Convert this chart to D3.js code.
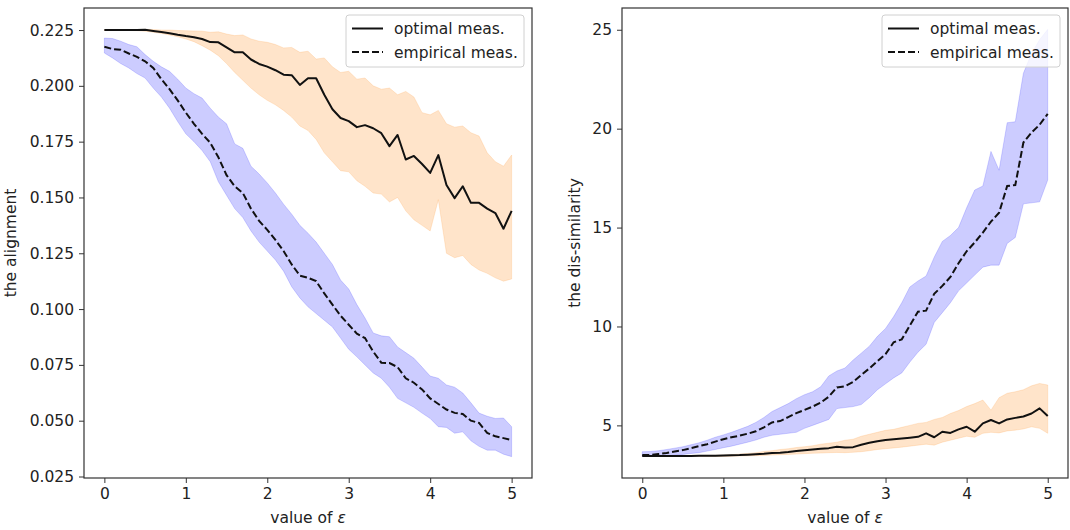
<!DOCTYPE html>
<html>
<head>
<meta charset="utf-8">
<script src="https://cdn.jsdelivr.net/npm/d3@7"></script>
<style>
  body { margin: 0; background: #fff; }
  text { font-family: "DejaVu Sans", sans-serif; fill: #222; }
</style>
</head>
<body>
<div id="chart"></div>
<script>
// x grid (value of epsilon)
var eps = [0, 0.1, 0.2, 0.3, 0.4, 0.5, 0.6, 0.7, 0.8, 0.9,
           1.0, 1.1, 1.2, 1.3, 1.4, 1.5, 1.6, 1.7, 1.8, 1.9,
           2.0, 2.1, 2.2, 2.3, 2.4, 2.5, 2.6, 2.7, 2.8, 2.9,
           3.0, 3.1, 3.2, 3.3, 3.4, 3.5, 3.6, 3.7, 3.8, 3.9,
           4.0, 4.1, 4.2, 4.3, 4.4, 4.5, 4.6, 4.7, 4.8, 4.9, 5.0]

// left: the alignment
var alignOpt = [.225, .225, .225, .225, .225, .2251, .2246, .2241, .2236, .2229,
                .2223, .2218, .2210, .2196, .2195, .2172, .2150, .2150, .2118, .2098,
                .2086, .2070, .2050, .2048, .2004, .2034, .2034, .1960, .1895, .1856,
                .1842, .1815, .1824, .1810, .1788, .1730, .1780, .1670, .1686, .1650,
                .1610, .1690, .1556, .1497, .1550, .1476, .1476, .1450, .1430, .1360, .1440]
var alignOptHi = [.2252, .2252, .2252, .2252, .2252, .2253, .2252, .2250, .2250, .2248,
                  .2247, .2246, .2245, .2240, .2242, .2232, .2225, .2228, .2210, .2200,
                  .2195, .2185, .2170, .2172, .2150, .2155, .2120, .2125, .2085, .2060,
                  .2065, .2030, .2035, .2000, .1985, .1990, .1960, .1975, .1950, .1880,
                  .1870, .1890, .1830, .1815, .1820, .1790, .1775, .1700, .1660, .1640, .1690]
var alignOptLo = [.2248, .2248, .2248, .2248, .2247, .2245, .2240, .2235, .2228, .2220,
                  .2210, .2198, .2180, .2160, .2135, .2100, .2060, .2025, .1990, .1960,
                  .1935, .1915, .1890, .1860, .1820, .1800, .1760, .1700, .1660, .1620,
                  .1615, .1575, .1550, .1520, .1515, .1480, .1500, .1440, .1400, .1375,
                  .1350, .1490, .1250, .1230, .1240, .1200, .1175, .1160, .1140, .1125, .1135]
var alignEmp = [.2175, .2165, .2162, .2145, .2130, .2110, .2080, .2030, .1985, .1935,
                .1880, .1830, .1785, .1745, .1680, .1600, .1550, .1520, .1450, .1395,
                .1355, .1310, .1260, .1200, .1150, .1140, .1125, .1070, .1020, .0970,
                .0930, .0890, .0870, .0810, .0760, .0758, .0740, .0690, .0670, .0640,
                .0600, .0575, .0550, .0535, .0530, .0500, .0490, .0445, .0430, .0422, .0413]
var alignEmpHi = [.2214, .2212, .2200, .2185, .2175, .2140, .2110, .2085, .2065, .2030,
                  .1990, .1965, .1945, .1900, .1860, .1830, .1740, .1720, .1640, .1605,
                  .1565, .1520, .1470, .1425, .1375, .1340, .1300, .1250, .1200, .1130,
                  .1090, .1020, .0960, .0893, .0880, .0876, .0830, .0805, .0780, .0740,
                  .0700, .0690, .0660, .0650, .0624, .0580, .0534, .0520, .0510, .0512, .0473]
var alignEmpLo = [.2147, .2125, .2100, .2080, .2055, .2035, .1990, .1950, .1900, .1840,
                  .1785, .1750, .1710, .1660, .1570, .1510, .1450, .1410, .1350, .1300,
                  .1260, .1220, .1170, .1100, .1050, .1010, .0980, .0950, .0920, .0870,
                  .0820, .0786, .0750, .0714, .0690, .0650, .0600, .0580, .0560, .0534,
                  .0510, .0473, .0470, .0444, .0450, .0410, .0385, .0368, .0368, .0350, .0339]

// right: the dis-similarity
var dissOpt = [3.45, 3.45, 3.45, 3.45, 3.45, 3.45, 3.45, 3.46, 3.46, 3.47,
               3.48, 3.49, 3.50, 3.52, 3.54, 3.56, 3.60, 3.62, 3.65, 3.70,
               3.74, 3.78, 3.82, 3.85, 3.92, 3.88, 3.90, 4.02, 4.12, 4.20,
               4.26, 4.30, 4.34, 4.38, 4.42, 4.60, 4.40, 4.68, 4.62, 4.80,
               4.93, 4.68, 5.10, 5.27, 5.10, 5.30, 5.38, 5.45, 5.60, 5.86, 5.47]
var dissOptHi = [3.47, 3.47, 3.47, 3.47, 3.47, 3.47, 3.48, 3.48, 3.49, 3.49,
                 3.50, 3.52, 3.55, 3.58, 3.62, 3.68, 3.72, 3.78, 3.82, 3.88,
                 3.92, 3.97, 4.05, 4.10, 4.15, 4.25, 4.30, 4.45, 4.55, 4.65,
                 4.75, 4.80, 4.90, 5.00, 5.10, 5.15, 5.30, 5.40, 5.60, 5.75,
                 5.95, 6.10, 6.28, 5.77, 6.40, 6.62, 6.70, 6.80, 7.00, 7.12, 7.04]
var dissOptLo = [3.43, 3.43, 3.43, 3.43, 3.43, 3.43, 3.43, 3.43, 3.43, 3.43,
                 3.43, 3.44, 3.45, 3.46, 3.47, 3.48, 3.50, 3.52, 3.53, 3.55,
                 3.57, 3.59, 3.60, 3.62, 3.63, 3.62, 3.64, 3.67, 3.72, 3.78,
                 3.82, 3.86, 3.90, 3.95, 4.00, 4.05, 4.00, 4.15, 4.25, 4.35,
                 4.45, 4.40, 4.60, 4.65, 4.62, 4.72, 4.76, 4.82, 4.93, 4.85, 4.60]
var dissEmp = [3.50, 3.50, 3.55, 3.60, 3.68, 3.75, 3.85, 3.95, 4.05, 4.18,
               4.30, 4.40, 4.48, 4.58, 4.70, 4.90, 5.15, 5.22, 5.42, 5.62,
               5.78, 5.95, 6.15, 6.45, 6.92, 6.98, 7.20, 7.55, 7.88, 8.25,
               8.60, 9.20, 9.35, 10.05, 10.75, 10.80, 11.65, 12.05, 12.50, 13.20,
               13.80, 14.25, 14.75, 15.30, 15.75, 17.10, 17.15, 19.30, 19.80, 20.20, 20.75]
var dissEmpHi = [3.67, 3.68, 3.72, 3.78, 3.85, 3.92, 4.02, 4.12, 4.25, 4.40,
                 4.52, 4.65, 4.80, 4.95, 5.15, 5.40, 5.70, 5.90, 6.10, 6.35,
                 6.55, 6.70, 6.95, 7.50, 7.75, 7.90, 8.30, 8.65, 9.00, 9.50,
                 9.90, 10.50, 11.20, 12.00, 12.30, 12.55, 13.50, 14.30, 14.60, 15.00,
                 16.00, 16.90, 17.10, 18.85, 17.90, 20.30, 20.35, 22.80, 23.80, 24.50, 25.02]
var dissEmpLo = [3.42, 3.43, 3.44, 3.46, 3.49, 3.53, 3.58, 3.62, 3.70, 3.78,
                 3.87, 3.95, 4.05, 4.15, 4.26, 4.40, 4.50, 4.55, 4.60, 4.65,
                 4.85, 5.00, 5.15, 5.30, 5.85, 5.90, 5.95, 6.05, 6.40, 6.80,
                 7.10, 7.40, 7.65, 8.20, 8.70, 9.10, 10.20, 10.70, 11.20, 11.80,
                 12.20, 12.60, 13.00, 13.10, 13.10, 14.20, 14.50, 16.20, 16.25, 16.30, 17.40]

var xTicks = [0, 1, 2, 3, 4, 5]
var alignTicks = [0.025, 0.05, 0.075, 0.1, 0.125, 0.15, 0.175, 0.2, 0.225]
var dissTicks = [5, 10, 15, 20, 25]
var legendLabels = ["optimal meas.", "empirical meas."]

var FS = "15.5px"

var svg = d3.select("#chart")
    .append("svg")
    .attr("width", 1070)
    .attr("height", 530)

function panel(left, right, top, bottom, opt, optLo, optHi, emp, empLo, empHi, ticks, fmt, ylabel, ylabelX) {
    var g = svg.append("g")

    var x = d3.scaleLinear().domain([-0.25, 5.25]).range([left, right])
    var all = optLo.concat(optHi, empLo, empHi, opt, emp)
    var lo = d3.min(all), hi = d3.max(all), pad = (hi - lo) * 0.05
    var y = d3.scaleLinear().domain([lo - pad, hi + pad]).range([bottom, top])

    var area = function (l, h) {
        return d3.area()
            .x(function (d, i) { return x(eps[i]) })
            .y0(function (d, i) { return y(l[i]) })
            .y1(function (d, i) { return y(h[i]) })(eps)
    }
    var line = function (v) {
        return d3.line()
            .x(function (d, i) { return x(eps[i]) })
            .y(function (d, i) { return y(v[i]) })(eps)
    }

    // bands
    g.append("path").attr("d", area(optLo, optHi))
        .style("fill", "#ff9a3c").style("fill-opacity", 0.27)
        .style("stroke", "#ff9a3c").style("stroke-opacity", 0.25).style("stroke-width", 0.8)
    g.append("path").attr("d", area(empLo, empHi))
        .style("fill", "#0000ff").style("fill-opacity", 0.2)
        .style("stroke", "#0000ff").style("stroke-opacity", 0.2).style("stroke-width", 0.8)

    // lines
    g.append("path").attr("d", line(opt))
        .style("fill", "none").style("stroke", "#111").style("stroke-width", 2)
        .style("stroke-linejoin", "round")
    g.append("path").attr("d", line(emp))
        .style("fill", "none").style("stroke", "#111").style("stroke-width", 2)
        .style("stroke-dasharray", "7,3")

    // axes
    var xa = g.append("g").attr("transform", "translate(0," + bottom + ")")
        .call(d3.axisBottom(x).tickValues(xTicks).tickFormat(d3.format("d")).tickSize(5).tickPadding(5))
    var ya = g.append("g").attr("transform", "translate(" + left + ",0)")
        .call(d3.axisLeft(y).tickValues(ticks).tickFormat(fmt).tickSize(5).tickPadding(5))
    ;[xa, ya].forEach(function (a) {
        a.select(".domain").remove()
        a.selectAll("line").style("stroke", "#333").style("stroke-width", 1)
        a.selectAll("text").style("font-size", FS).style("font-family", "DejaVu Sans, sans-serif").style("fill", "#222")
    })

    // frame
    g.append("rect")
        .attr("x", left).attr("y", top)
        .attr("width", right - left).attr("height", bottom - top)
        .style("fill", "none").style("stroke", "#333").style("stroke-width", 1.2)

    // axis labels
    var xl = g.append("text")
        .attr("x", (left + right) / 2).attr("y", 523)
        .attr("text-anchor", "middle")
        .style("font-size", FS)
    xl.append("tspan").text("value of ")
    xl.append("tspan").text("ε").style("font-style", "italic")

    g.append("text")
        .attr("transform", "translate(" + ylabelX + "," + ((top + bottom) / 2) + ") rotate(-90)")
        .attr("text-anchor", "middle")
        .style("font-size", FS)
        .text(ylabel)

    // legend
    var lx = right - 186, ly = top + 7
    g.append("rect")
        .attr("x", lx).attr("y", ly).attr("width", 178).attr("height", 52).attr("rx", 3)
        .style("fill", "#fff").style("fill-opacity", 0.8)
        .style("stroke", "#d0d0d0").style("stroke-width", 1)
    legendLabels.forEach(function (t, i) {
        var yy = ly + 13.5 + i * 23.5
        g.append("line")
            .attr("x1", lx + 6).attr("x2", lx + 37).attr("y1", yy).attr("y2", yy)
            .style("stroke", "#111").style("stroke-width", 2)
            .style("stroke-dasharray", i == 1 ? "7,3" : null)
        g.append("text")
            .attr("x", lx + 48).attr("y", yy + 5.5)
            .style("font-size", FS)
            .text(t)
    })
}

panel(84, 532, 8, 478, alignOpt, alignOptLo, alignOptHi, alignEmp, alignEmpLo, alignEmpHi,
      alignTicks, d3.format(".3f"), "the alignment", 16)
panel(622, 1068, 8, 478, dissOpt, dissOptLo, dissOptHi, dissEmp, dissEmpLo, dissEmpHi,
      dissTicks, d3.format("d"), "the dis-similarity", 580)
</script>
</body>
</html>
